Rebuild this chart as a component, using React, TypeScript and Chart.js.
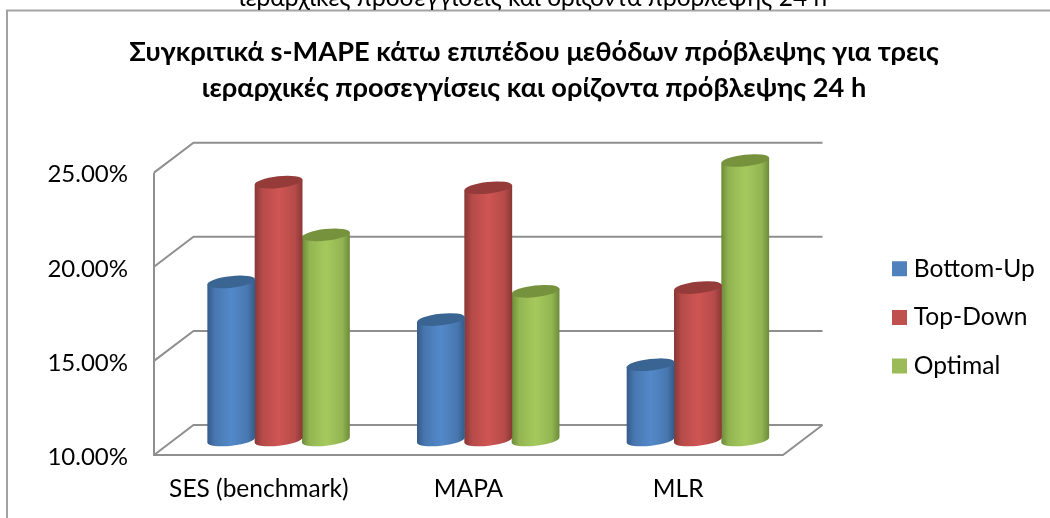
import React, { useEffect, useRef } from "react";
import { Chart, registerables } from "chart.js";

Chart.register(...registerables);

const categories = ["SES (benchmark)", "MAPA", "MLR"];
const bottomUp = [18.4, 16.4, 14.0];
const topDown = [23.7, 23.4, 18.1];
const optimal = [20.9, 17.9, 24.85];
const titleLines = [
  "Συγκριτικά s-MAPE κάτω επιπέδου μεθόδων πρόβλεψης για τρεις",
  "ιεραρχικές προσεγγίσεις και ορίζοντα πρόβλεψης 24 h",
];
const captionAbove = "ιεραρχικές προσεγγίσεις και ορίζοντα πρόβλεψης 24 h";

const FONT = "Lato, 'Open Sans', 'Noto Sans', sans-serif";
const DEPTH_X = 39.5;
const DEPTH_Y = 30;
const GRID = "#8f8f8f";
const AXIS_MIN = 10;

// [edge, mid, highlight, cap] shades for each cylinder colour
const SHADES: Record<string, string[]> = {
  "#4f81bd": ["#345a88", "#4877af", "#5389ca", "#3a6593"],
  "#c0504d": ["#873735", "#b54b49", "#cf5553", "#953b39"],
  "#9bbb59": ["#6c8a39", "#93b552", "#a6c95e", "#76923c"],
};

// Oblique wall, floor and back gridlines derived from the value scale
const wallsPlugin = {
  id: "walls",
  beforeDatasetsDraw(chart: any) {
    const { ctx, chartArea, scales } = chart;
    const { left, right, top, bottom } = chartArea;
    ctx.save();
    ctx.strokeStyle = GRID;
    ctx.lineWidth = 2;
    ctx.lineJoin = "miter";
    scales.y.ticks.forEach((_: unknown, i: number) => {
      const y = scales.y.getPixelForTick(i);
      ctx.beginPath();
      ctx.moveTo(left, y);
      ctx.lineTo(left + DEPTH_X, y - DEPTH_Y);
      ctx.lineTo(right + DEPTH_X, y - DEPTH_Y);
      ctx.stroke();
    });
    ctx.beginPath();
    ctx.moveTo(left, top);
    ctx.lineTo(left, bottom);
    ctx.lineTo(right, bottom);
    ctx.lineTo(right + DEPTH_X, bottom - DEPTH_Y);
    ctx.stroke();
    ctx.restore();
  },
};

// Paints each bar element as a shaded cylinder standing mid-depth on the floor
const cylinderPlugin = {
  id: "cylinders",
  beforeDatasetDraw(chart: any, args: any) {
    const { ctx } = chart;
    const shades = SHADES[args.meta._dataset.backgroundColor];
    args.meta.data.forEach((bar: any) => {
      const rx = bar.width / 2 + 0.4;
      const ry = 5.8;
      const rot = -0.11;
      const cx = bar.x + DEPTH_X / 2;
      const yTop = bar.y - DEPTH_Y / 2;
      const yBase = bar.base - DEPTH_Y / 2;
      const ox = rx * Math.cos(rot);
      const oy = rx * Math.sin(rot);
      const g = ctx.createLinearGradient(cx - rx, 0, cx + rx, 0);
      g.addColorStop(0, shades[0]);
      g.addColorStop(0.16, shades[1]);
      g.addColorStop(0.5, shades[2]);
      g.addColorStop(0.84, shades[1]);
      g.addColorStop(1, shades[0]);
      ctx.save();
      ctx.beginPath();
      ctx.moveTo(cx - ox, yTop - oy);
      ctx.lineTo(cx - ox, yBase - oy);
      ctx.ellipse(cx, yBase, rx, ry, rot, Math.PI, 0, true);
      ctx.lineTo(cx + ox, yTop + oy);
      ctx.closePath();
      ctx.fillStyle = g;
      ctx.fill();
      ctx.beginPath();
      ctx.ellipse(cx, yTop, rx, ry, rot, 0, Math.PI * 2);
      ctx.fillStyle = shades[3];
      ctx.fill();
      ctx.restore();
    });
    return false;
  },
};

// Fixed frame, title offset and legend placement
const framePlugin = {
  id: "frame",
  beforeLayout(chart: any) {
    const legend = chart.legend;
    if (!legend.__fixedWidth) {
      const fit = legend.fit;
      legend.fit = function () {
        fit.call(this);
        this.width = 267;
      };
      legend.__fixedWidth = true;
    }
  },
  afterUpdate(chart: any) {
    const legend = chart.legend;
    const pad = legend.options.labels.padding;
    legend.left = 897.5 - pad;
    legend.right = 1050;
    legend.top = 256.5 - pad;
    chart.titleBlock.left += 9;
    chart.titleBlock.right += 9;
  },
  beforeDraw(chart: any) {
    const { ctx } = chart;
    ctx.save();
    ctx.strokeStyle = "#a3a3a3";
    ctx.lineWidth = 2;
    ctx.beginPath();
    ctx.moveTo(7, 518);
    ctx.lineTo(7, 10.5);
    ctx.lineTo(1050, 10.5);
    ctx.stroke();
    ctx.restore();
  },
};

export default function App() {
  const ref = useRef<HTMLCanvasElement>(null);
  useEffect(() => {
    document.body.style.margin = "0";
    const chart = new Chart(ref.current as HTMLCanvasElement, {
      type: "bar",
      data: {
        labels: categories,
        datasets: [
          { label: "Bottom-Up", data: bottomUp, backgroundColor: "#4f81bd", base: AXIS_MIN },
          { label: "Top-Down", data: topDown, backgroundColor: "#c0504d", base: AXIS_MIN },
          { label: "Optimal", data: optimal, backgroundColor: "#9bbb59", base: AXIS_MIN },
        ],
      },
      options: {
        responsive: false,
        animation: false,
        events: [],
        layout: { padding: 0 },
        datasets: { bar: { barPercentage: 1, categoryPercentage: 0.677 } },
        scales: {
          x: {
            grid: { display: false },
            border: { display: false },
            ticks: { color: "#000", font: { family: FONT, size: 24.5 }, padding: 11, maxRotation: 0 },
            afterFit(s: any) {
              s.height = 63;
            },
          },
          y: {
            min: AXIS_MIN,
            max: 25,
            grid: { display: false },
            border: { display: false },
            ticks: {
              stepSize: 5,
              color: "#000",
              font: { family: FONT, size: 24 },
              padding: 18,
              labelOffset: 2,
              callback: (v: any) => `${Number(v).toFixed(2)}%`,
            },
            afterFit(s: any) {
              s.width = 154;
            },
          },
        },
        plugins: {
          tooltip: { enabled: false },
          title: {
            display: true,
            text: titleLines,
            color: "#000",
            font: { family: FONT, size: 27.2, weight: "bold", lineHeight: 1.323 },
            padding: { top: 34, bottom: 66.7 },
          },
          legend: {
            position: "right",
            align: "start",
            labels: {
              // small box plus a heavy same-colour outline gives a 15px swatch close to its label
              boxWidth: 4,
              boxHeight: 4,
              padding: 24,
              color: "#000",
              font: { family: FONT, size: 24.6 },
              generateLabels(c: any) {
                return Chart.defaults.plugins.legend.labels
                  .generateLabels(c)
                  .map((l: any) => ({ ...l, lineWidth: 11, strokeStyle: l.fillStyle }));
              },
            },
          },
        },
      },
      plugins: [framePlugin, wallsPlugin, cylinderPlugin],
    } as any);
    return () => chart.destroy();
  }, []);
  return (
    <div style={{ position: "relative", width: 1050, height: 518, overflow: "hidden", background: "#fff" }}>
      <canvas ref={ref} width={1050} height={518} style={{ display: "block" }} />
      <div
        style={{
          position: "absolute",
          left: 0,
          width: 1066,
          top: -15,
          textAlign: "center",
          fontFamily: FONT,
          fontSize: 24.5,
          lineHeight: "24px",
          color: "#000",
          whiteSpace: "nowrap",
        }}
      >
        {captionAbove}
      </div>
    </div>
  );
}
